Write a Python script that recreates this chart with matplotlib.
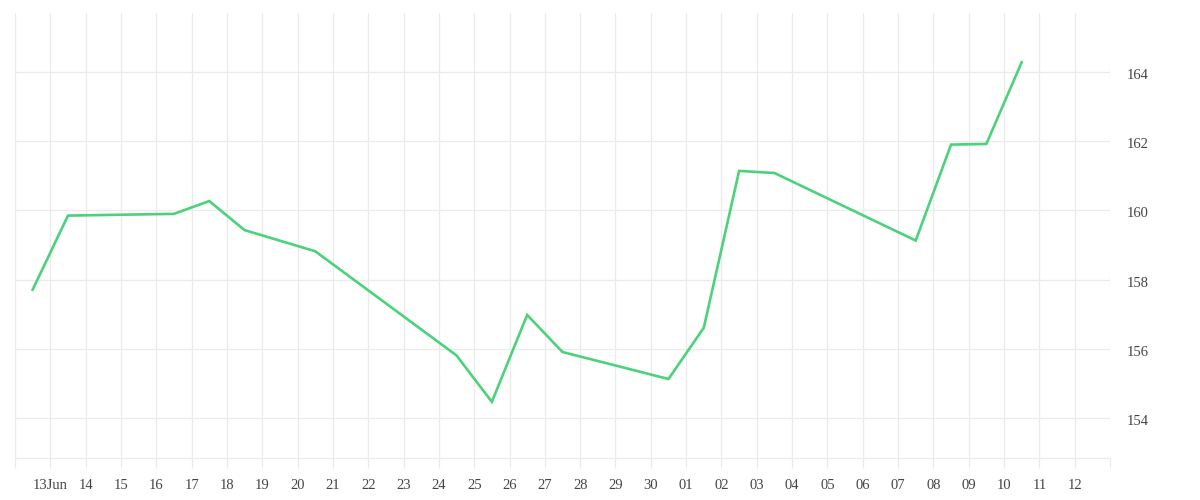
import matplotlib
matplotlib.use("Agg")
import matplotlib.pyplot as plt
import matplotlib.transforms as mtransforms
import pandas as pd

dates = ["2023-06-12 12:00", "2023-06-13 12:00", "2023-06-16 12:00", "2023-06-17 12:00",
         "2023-06-18 12:00", "2023-06-20 12:00", "2023-06-24 12:00", "2023-06-25 12:00",
         "2023-06-26 12:00", "2023-06-27 12:00", "2023-06-30 12:00", "2023-07-01 12:00",
         "2023-07-02 12:00", "2023-07-03 12:00", "2023-07-07 12:00", "2023-07-08 12:00",
         "2023-07-09 12:00", "2023-07-10 12:00"]
values = [157.71, 159.85, 159.90, 160.27, 159.43, 158.82, 155.81, 154.47, 156.98,
          155.91, 155.13, 156.61, 161.14, 161.08, 159.13, 161.90, 161.92, 164.28]
y_ticks = [154, 156, 158, 160, 162, 164]

x = pd.to_datetime(dates)

fig = plt.figure(figsize=(12, 5), dpi=100)
ax = fig.add_axes([15 / 1200, 1 - 458.3 / 500, (1110 - 15) / 1200, (458.3 - 12.7) / 500])

ax.plot(x, values, color="#4cd27a", lw=1.9, solid_joinstyle="miter", zorder=3)

ax.set_xlim(pd.Timestamp("2023-06-12"), pd.Timestamp("2023-07-13"))
ax.set_ylim(152.84, 165.71)

tick_days = pd.date_range("2023-06-12", "2023-07-13", freq="D")
ax.set_xticks(tick_days)
labels = []
for d in tick_days:
    if d == tick_days[0] or d == tick_days[-1]:
        labels.append("")
    elif d.day == 13 and d.month == 6:
        labels.append("13Jun")
    else:
        labels.append(d.strftime("%d"))
ax.set_xticklabels(labels)

ax.set_yticks(y_ticks)
ax.set_yticklabels([str(v) for v in y_ticks])
ax.yaxis.tick_right()

grid_c = "#ebebeb"
ax.grid(True, color=grid_c, lw=0.9, zorder=0)
for s in ["top", "left", "right"]:
    ax.spines[s].set_visible(False)
ax.spines["bottom"].set_color(grid_c)
ax.spines["bottom"].set_linewidth(0.9)

ax.tick_params(axis="x", length=7.2, width=0.9, color=grid_c, pad=8,
               labelsize=10.5, labelcolor="#444444")
ax.tick_params(axis="y", length=0, pad=12, labelsize=10.5, labelcolor="#444444")
offset = mtransforms.ScaledTranslation(0, -2 / 100, fig.dpi_scale_trans)
for lab in ax.get_xticklabels():
    lab.set_fontfamily("Liberation Serif")
for lab in ax.get_yticklabels():
    lab.set_fontfamily("Liberation Serif")
    lab.set_transform(lab.get_transform() + offset)

fig.savefig("out.png", dpi=100)
